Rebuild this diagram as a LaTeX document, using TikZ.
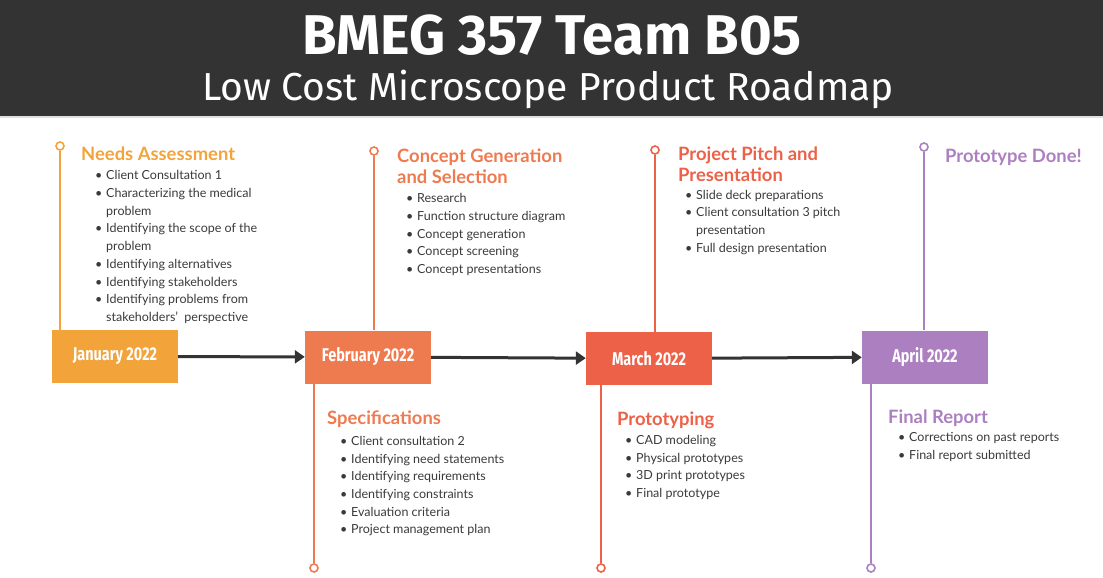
\documentclass[tikz,border=0pt]{standalone}
\usepackage{fontspec}
\setmainfont{Lato}
\newfontfamily\titlefont{Fira Sans}
\newfontfamily\monthfont[FakeStretch=0.78]{Fira Sans}
\usetikzlibrary{arrows.meta}

\definecolor{hdgray}{HTML}{333333}
\definecolor{bodygray}{HTML}{3A3A3A}
\definecolor{janc}{HTML}{F2A33A}
\definecolor{febc}{HTML}{EE7A4F}
\definecolor{marc}{HTML}{EC6147}
\definecolor{aprc}{HTML}{AC7FC0}

\newcommand{\itm}[1]{\makebox[11pt][l]{\textbullet}#1}
\newcommand{\cnt}[1]{\hspace*{11pt}#1}

\begin{document}
\begin{tikzpicture}[x=1pt,y=-1pt,
  month/.style={fill=#1, minimum width=126pt, minimum height=53pt, inner sep=0pt,
    text=white, font=\monthfont\bfseries\fontsize{18.5}{20}\selectfont},
  stem/.style={line width=2pt, draw=#1},
  pin/.style={circle, draw=#1, line width=1.6pt, fill=white, inner sep=0pt, minimum size=8pt},
  head/.style={anchor=base west, inner sep=0pt, align=left, text=#1,
    font=\bfseries\fontsize{18.4}{21}\selectfont},
  items/.style={anchor=north west, inner sep=0pt, align=left, text=bodygray,
    font=\fontsize{12.5}{17.7}\selectfont},
  flow/.style={line width=3pt, draw=hdgray, -{Triangle[length=10pt,width=13pt]}}]
\useasboundingbox (0,0) rectangle (1103,578);

% header
\fill[hdgray] (0,0) rectangle (1103,116);
\fill[black!12] (0,116) rectangle (1103,118);
\node[text=white, font=\titlefont\bfseries\fontsize{56}{60}\selectfont, anchor=base] (title) at (552,55) {BMEG 357 Team B05};
\node[text=white, font=\titlefont\fontsize{39}{46}\selectfont, anchor=base] (subtitle) at (548,100) {Low Cost Microscope Product Roadmap};

% months
\node[month=janc] (jan) at (115,356.5) {January 2022};
\node[month=febc] (feb) at (368,357) {February 2022};
\node[month=marc] (mar) at (649,358.5) {March 2022};
\node[month=aprc] (apr) at (925,357) {April 2022};
\draw[flow] (jan) -- (feb);
\draw[flow] (feb) -- (mar);
\draw[flow] (mar) -- (apr);

% stems
\node[pin=janc] (janUp) at (60,146) {};
\draw[stem=janc] (janUp) -- (janUp |- jan.north);
\node[pin=febc] (febUp) at (374,151) {};
\draw[stem=febc] (febUp) -- (febUp |- feb.north);
\node[pin=febc] (febDn) at (314,568) {};
\draw[stem=febc] (febDn) -- (febDn |- feb.south);
\node[pin=marc] (marUp) at (655,150) {};
\draw[stem=marc] (marUp) -- (marUp |- mar.north);
\node[pin=marc] (marDn) at (601,568) {};
\draw[stem=marc] (marDn) -- (marDn |- mar.south);
\node[pin=aprc] (aprUp) at (924,147) {};
\draw[stem=aprc] (aprUp) -- (aprUp |- apr.north);
\node[pin=aprc] (aprDn) at (871,568) {};
\draw[stem=aprc] (aprDn) -- (aprDn |- apr.south);

% January
\node[head=janc] (needsHd) at (81,160.7) {Needs Assessment};
\node[items] (needsList) at (95,170.4) {\itm{Client Consultation 1}\\
  \itm{Characterizing the medical}\\ \cnt{problem}\\
  \itm{Identifying the scope of the}\\ \cnt{problem}\\
  \itm{Identifying alternatives}\\
  \itm{Identifying stakeholders}\\
  \itm{Identifying problems from}\\ \cnt{stakeholders'\ \ perspective}};

% February
\node[head=febc] (conceptHd) at (397,183) {Concept Generation\\and Selection};
\node[items] (conceptList) at (406,193.3) {\itm{Research}\\
  \itm{Function structure diagram}\\
  \itm{Concept generation}\\
  \itm{Concept screening}\\
  \itm{Concept presentations}};
\node[head=febc] (specHd) at (327,424.3) {Specifications};
\node[items] (specList) at (340,436) {\itm{Client consultation 2}\\
  \itm{Identifying need statements}\\
  \itm{Identifying requirements}\\
  \itm{Identifying constraints}\\
  \itm{Evaluation criteria}\\
  \itm{Project management plan}};

% March
\node[head=marc] (pitchHd) at (678,181.7) {Project Pitch and\\Presentation};
\node[items] (pitchList) at (685,189.6) {\itm{Slide deck preparations}\\
  \itm{Client consultation 3 pitch}\\ \cnt{presentation}\\
  \itm{Full design presentation}};
\node[head=marc] (protoHd) at (617,425.7) {Prototyping};
\node[items] (protoList) at (625,435) {\itm{CAD modeling}\\
  \itm{Physical prototypes}\\
  \itm{3D print prototypes}\\
  \itm{Final prototype}};

% April
\node[head=aprc] (doneHd) at (945,162.7) {Prototype Done!};
\node[head=aprc] (reportHd) at (888,423.3) {Final Report};
\node[items] (reportList) at (898,432.6) {\itm{Corrections on past reports}\\
  \itm{Final report submitted}};
\end{tikzpicture}
\end{document}
